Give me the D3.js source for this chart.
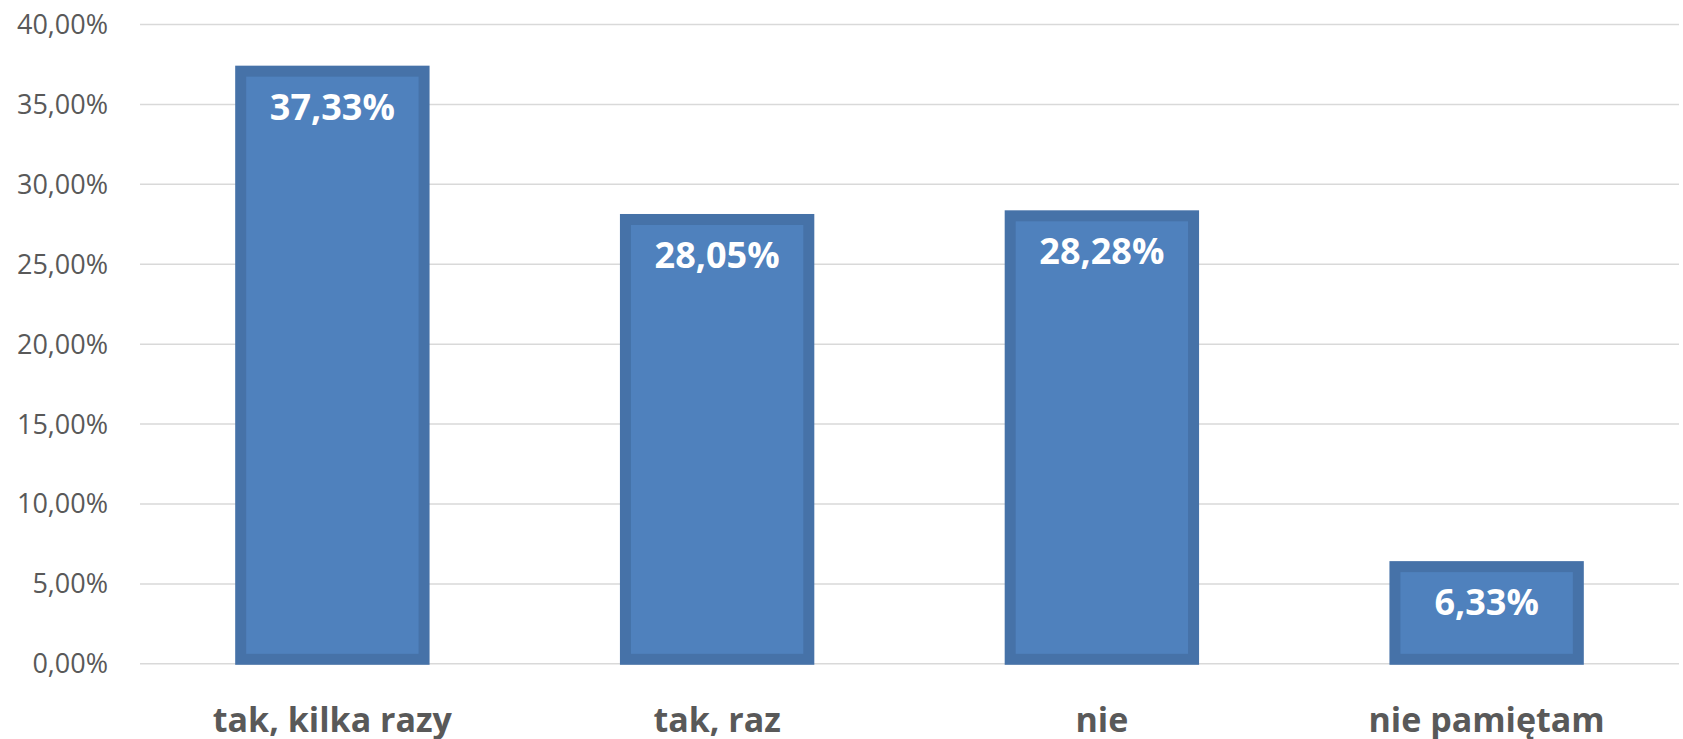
<!DOCTYPE html>
<html>
<head>
<meta charset="utf-8">
<script src="https://cdn.jsdelivr.net/npm/d3@7"></script>
<style>
  body { margin: 0; background: #fff; }
  svg { display: block; }
</style>
</head>
<body>
<div id="chart"></div>
<script>
const categories = ['tak, kilka razy', 'tak, raz', 'nie', 'nie pamiętam']
const values = [37.33, 28.05, 28.28, 6.33]
const yTicks = [0, 5, 10, 15, 20, 25, 30, 35, 40]

const W = 1683, H = 739
const plotLeft = 140, plotRight = 1679, plotTop = 24, plotBottom = 663.3

const pl = d3.formatLocale({decimal: ',', thousands: ' ', grouping: [3], currency: ['', ' zł']})
const fmt = pl.format('.2f')

const svg = d3.select('#chart').append('svg')
  .attr('width', W)
  .attr('height', H)

const x = d3.scaleBand().domain(categories).range([plotLeft, plotRight]).paddingInner(0.5).paddingOuter(0.25)
const y = d3.scaleLinear().domain([0, 40]).range([plotBottom, plotTop])

// gridlines + y labels
let yAxis = svg.append('g')
  .attr('transform', `translate(${plotLeft},0)`)
  .call(d3.axisLeft(y).tickValues(yTicks).tickSize(-(plotRight - plotLeft)).tickPadding(32).tickFormat(d => fmt(d) + '%'))
yAxis.select('.domain').remove()
yAxis.selectAll('line').attr('stroke', '#d9d9d9').attr('stroke-width', 1.5)
yAxis.selectAll('text')
  .attr('fill', '#595959')
  .attr('font-family', '"Open Sans", sans-serif')
  .attr('font-size', 27)
  .attr('dy', '0.35em')

// bars
const sw = 11
svg.selectAll('rect.bar')
  .data(values)
  .enter().append('rect')
  .attr('class', 'bar')
  .attr('x', (d, i) => x(categories[i]) + sw / 2 - 1)
  .attr('width', x.bandwidth() - sw + 2)
  .attr('y', d => y(d) + sw / 2 - 1)
  .attr('height', d => y(0) - y(d) - sw + 2.5)
  .attr('fill', '#4f81bd')
  .attr('stroke', '#4672a8')
  .attr('stroke-width', sw)

// value labels
svg.selectAll('text.val')
  .data(values)
  .enter().append('text')
  .attr('class', 'val')
  .attr('x', (d, i) => x(categories[i]) + x.bandwidth() / 2)
  .attr('y', d => y(d) + 53)
  .attr('text-anchor', 'middle')
  .attr('fill', '#ffffff')
  .attr('font-family', '"Open Sans", sans-serif')
  .attr('font-weight', 'bold')
  .attr('font-size', 36)
  .text(d => fmt(d) + '%')

// category labels
let xAxis = svg.append('g')
  .attr('transform', `translate(0,${plotBottom})`)
  .call(d3.axisBottom(x).tickSize(0))
xAxis.select('.domain').remove()
xAxis.selectAll('text')
  .attr('y', 69)
  .attr('dy', 0)
  .attr('fill', '#595959')
  .attr('font-family', '"Open Sans", sans-serif')
  .attr('font-weight', 'bold')
  .attr('font-size', 34)
</script>
</body>
</html>
